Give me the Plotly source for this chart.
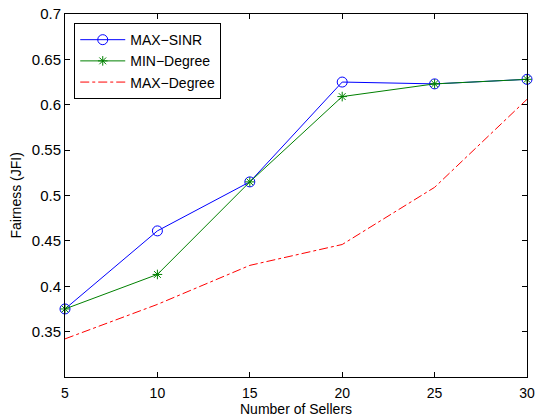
import plotly.graph_objects as go

sellers = [5, 10, 15, 20, 25, 30]
max_sinr = [0.375, 0.461, 0.515, 0.625, 0.623, 0.628]
min_degree = [0.375, 0.413, 0.515, 0.609, 0.623, 0.628]
max_degree = [0.342, 0.380, 0.423, 0.446, 0.509, 0.606]
x_ticks = [5, 10, 15, 20, 25, 30]
y_ticks = [0.35, 0.4, 0.45, 0.5, 0.55, 0.6, 0.65, 0.7]

fig = go.Figure()
fig.add_trace(go.Scatter(x=sellers, y=max_sinr, name="MAX\u2212SINR", mode="lines+markers",
                         line=dict(color="#0000FF", width=1),
                         marker=dict(symbol="circle-open", size=10, color="#0000FF", line=dict(width=1)),
                         cliponaxis=False))
fig.add_trace(go.Scatter(x=sellers, y=min_degree, name="MIN\u2212Degree", mode="lines+markers",
                         line=dict(color="#008000", width=1),
                         marker=dict(symbol="asterisk-open", size=8, color="#008000", line=dict(width=1, color="#008000")),
                         cliponaxis=False))
fig.add_trace(go.Scatter(x=sellers, y=max_degree, name="MAX\u2212Degree", mode="lines",
                         line=dict(color="#FF0000", width=1, dash="dashdot")))

axis_common = dict(showline=True, linecolor="black", linewidth=1, mirror="ticks",
                   ticks="inside", ticklen=5, tickcolor="black", showgrid=False, zeroline=False,
                   automargin=False)

fig.update_layout(
    width=535, height=418,
    margin=dict(l=65, r=8, t=14, b=41),
    paper_bgcolor="white", plot_bgcolor="white",
    font=dict(family="Liberation Sans, Arial, sans-serif", color="black"),
    xaxis=dict(range=[5, 30], tickvals=x_ticks, ticktext=[str(v) for v in x_ticks],
               ticklabelstandoff=3,
               tickfont=dict(family="Liberation Sans, Arial, sans-serif", size=14, color="black"),
               **axis_common),
    yaxis=dict(range=[0.3, 0.7], tickvals=y_ticks, ticktext=[f"{v:g}" for v in y_ticks],
               tickfont=dict(family="Liberation Sans, Arial, sans-serif", size=15, color="black"),
               **axis_common),
    legend=dict(x=0.02, y=0.975, xanchor="left", yanchor="top", bordercolor="black", borderwidth=1,
                bgcolor="white", font=dict(size=14), tracegroupgap=0, itemwidth=45),
    showlegend=True,
    annotations=[
        dict(text="Number of Sellers", xref="paper", yref="paper", x=0.5, y=-0.0,
             xanchor="center", yanchor="top", yshift=-22, showarrow=False, font=dict(size=14)),
        dict(text="Fairness (JFI)", xref="paper", yref="paper", x=0, y=0.5, textangle=-90,
             xanchor="center", yanchor="middle", xshift=-50, showarrow=False, font=dict(size=14)),
    ],
)

fig.write_html("out.html", config={"displayModeBar": False},
               post_script="document.body.style.margin='0';")
